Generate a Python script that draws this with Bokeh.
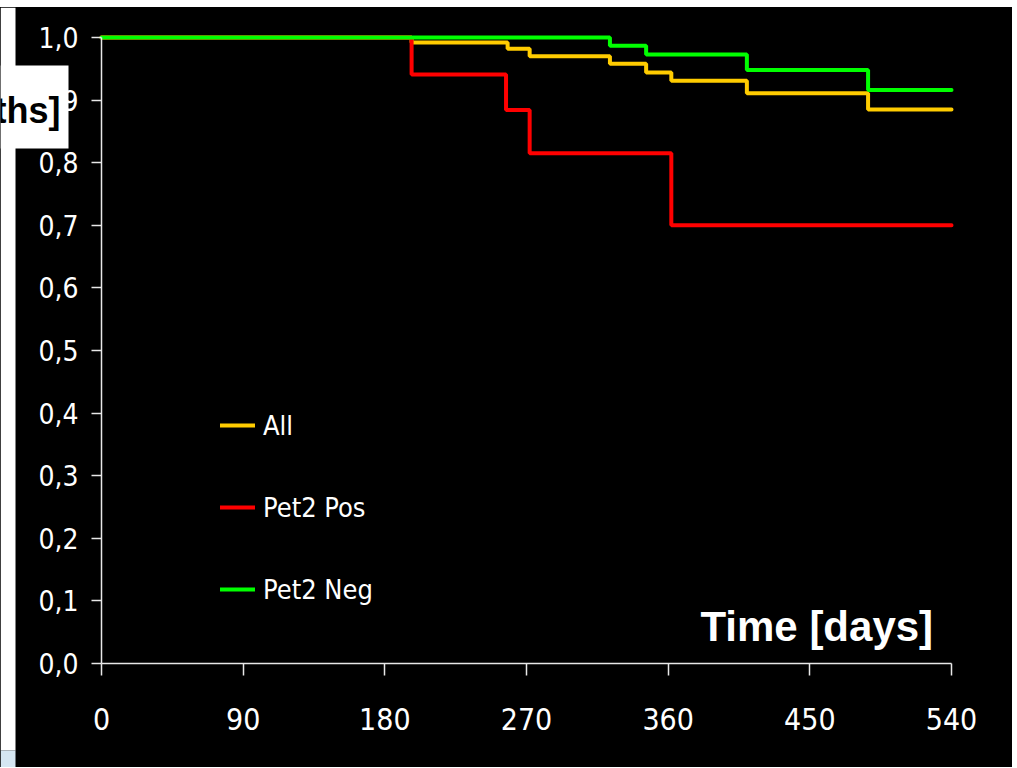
from bokeh.plotting import figure
from bokeh.models import FixedTicker, Legend, LegendItem, Label, BoxAnnotation
from bokeh.embed import file_html
from bokeh.resources import INLINE

# --- data ---
days_all = [0, 197, 258, 272, 323, 346, 362, 410, 487, 540]
surv_all = [1.0, 0.992, 0.982, 0.970, 0.958, 0.944, 0.931, 0.911, 0.885, 0.885]

days_pos = [0, 197, 257, 272, 362, 540]
surv_pos = [1.0, 0.941, 0.884, 0.815, 0.700, 0.700]

days_neg = [0, 323, 346, 410, 487, 540]
surv_neg = [1.0, 0.987, 0.973, 0.948, 0.916, 0.916]

series_names = ["All", "Pet2 Pos", "Pet2 Neg"]
x_ticks = [0, 90, 180, 270, 360, 450, 540]
y_ticks = [0.0, 0.1, 0.2, 0.3, 0.4, 0.5, 0.6, 0.7, 0.8, 0.9, 1.0]
y_tick_labels = ["0,0", "0,1", "0,2", "0,3", "0,4", "0,5", "0,6", "0,7", "0,8", "0,9", "1,0"]

NARROW = "'DejaVu Sans Condensed', 'Liberation Sans Narrow', sans-serif"
BOLD = "'Liberation Sans', Arial, sans-serif"

# the frame spans the whole canvas; both axes sit at the data origin
p = figure(width=1012, height=760, output_backend="svg", toolbar_location=None,
           x_range=(-64.165, 578.75), y_range=(-0.16613, 1.04792),
           min_border_left=0, min_border_right=0, min_border_top=0, min_border_bottom=0)
p.margin = (7, 0, 0, 0)
p.styles = {"background-color": "black"}
p.background_fill_color = "black"
p.border_fill_color = "black"
p.outline_line_color = None
p.xgrid.visible = False
p.ygrid.visible = False

r_all = p.step(days_all, surv_all, mode="after", line_color="#FFCC00", line_width=4, line_cap="round")
r_pos = p.step(days_pos, surv_pos, mode="after", line_color="#FF0000", line_width=4, line_cap="round")
r_neg = p.step(days_neg, surv_neg, mode="after", line_color="#00FF00", line_width=4, line_cap="round")

for ax in (p.xaxis[0], p.yaxis[0]):
    ax.fixed_location = 0
    ax.axis_line_color = "#e8e8e8"
    ax.axis_line_width = 1.5
    ax.major_tick_line_color = "#e8e8e8"
    ax.major_tick_line_width = 1.5
    ax.major_tick_in = 0
    ax.minor_tick_line_color = None
    ax.major_label_text_color = "white"
    ax.major_label_text_font = NARROW

p.xaxis.ticker = FixedTicker(ticks=x_ticks)
p.xaxis.bounds = (0, 540)
p.xaxis.major_tick_out = 12
p.xaxis.major_label_standoff = 32
p.xaxis.major_label_text_font_size = "30px"

p.yaxis.ticker = FixedTicker(ticks=y_ticks)
p.yaxis.bounds = (0, 1)
p.yaxis.major_tick_out = 10
p.yaxis.major_label_standoff = 13
p.yaxis.major_label_text_font_size = "28px"
p.yaxis.major_label_overrides = {t: l for t, l in zip(y_ticks, y_tick_labels)}

legend = Legend(items=[LegendItem(label=series_names[0], renderers=[r_all]),
                       LegendItem(label=series_names[1], renderers=[r_pos]),
                       LegendItem(label=series_names[2], renderers=[r_neg])],
                location=(220, 161), orientation="vertical",
                background_fill_alpha=0, border_line_color=None,
                label_text_color="white", label_text_font=NARROW, label_text_font_size="27px",
                glyph_width=35, glyph_height=34, label_height=34, spacing=48,
                padding=0, margin=0, label_standoff=8)
p.add_layout(legend)

p.add_layout(Label(x=380.5, y=0.0974, text="Time [days]", text_color="white",
                   text_font=BOLD, text_font_style="bold", text_font_size="42px",
                   text_align="left", text_baseline="top"))

# page strip on the far left (white, light blue at the bottom)
p.add_layout(BoxAnnotation(left=0, right=15, top=0, bottom=743,
                           left_units="canvas", right_units="canvas",
                           top_units="canvas", bottom_units="canvas",
                           fill_color="white", fill_alpha=1, line_color=None))
p.add_layout(BoxAnnotation(left=0, right=15, top=743, bottom=760,
                           left_units="canvas", right_units="canvas",
                           top_units="canvas", bottom_units="canvas",
                           fill_color="#d5e6f2", fill_alpha=1, line_color=None))

# the cut-off white title box at the upper left
p.add_layout(BoxAnnotation(left=0, right=68, top=58, bottom=141,
                           left_units="canvas", right_units="canvas",
                           top_units="canvas", bottom_units="canvas",
                           fill_color="white", fill_alpha=1, line_color=None))
p.add_layout(Label(x=60, y=82, x_units="canvas", y_units="canvas", text="ths]",
                   text_color="black", text_font=BOLD, text_font_style="bold",
                   text_font_size="36px", text_align="right", text_baseline="top"))

open("out.html", "w").write(file_html(p, INLINE))
